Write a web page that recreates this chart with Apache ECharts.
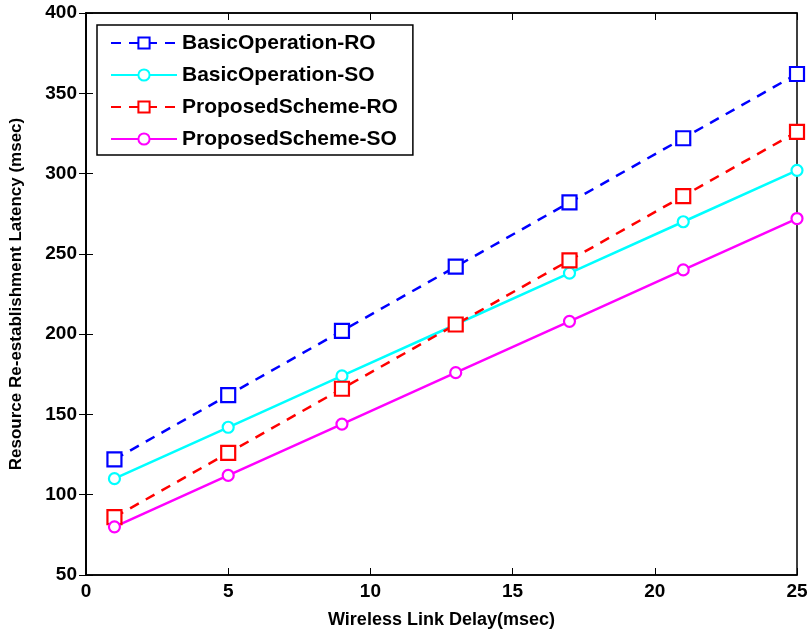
<!DOCTYPE html>
<html>
<head>
<meta charset="utf-8">
<script src="https://cdn.jsdelivr.net/npm/echarts@6/dist/echarts.min.js"></script>
<style>
  html, body { margin: 0; padding: 0; background: #fff; }
  #chart { width: 809px; height: 639px; }
</style>
</head>
<body>
<div id="chart"></div>
<script>
// x values (wireless link delay, msec)
const delays = [1, 5, 9, 13, 17, 21, 25]

// latency values (msec)
const basicRO = [122, 162, 202, 242, 282, 322, 362]
const basicSO = [110, 142, 174, 206, 238, 270, 302]
const proposedRO = [86, 126, 166, 206, 246, 286, 326]
const proposedSO = [80, 112, 144, 176, 208, 240, 272]

const seriesNames = ['BasicOperation-RO', 'BasicOperation-SO', 'ProposedScheme-RO', 'ProposedScheme-SO']

const font = "'Liberation Sans', Arial, sans-serif"

const toPoints = (ys) => delays.map((x, i) => [x, ys[i]])

const makeSeries = (name, ys, color, dashed, square) => ({
  name: name,
  type: 'line',
  data: toPoints(ys),
  symbol: square ? 'rect' : 'circle',
  symbolSize: square ? 14 : 11,
  showAllSymbol: true,
  itemStyle: { color: '#fff', borderColor: color, borderWidth: 2.2 },
  lineStyle: { color: color, width: 2.5, type: dashed ? [10, 8] : 'solid' },
  emphasis: { disabled: true },
  z: 3
})

const chart = echarts.init(document.getElementById('chart'))

chart.setOption({
  animation: false,
  backgroundColor: '#fff',
  grid: {
    left: 86,
    right: 12,
    top: 13,
    bottom: 64,
    outerBoundsMode: 'none',
    containLabel: false,
    show: true,
    borderColor: '#000',
    borderWidth: 1.5
  },
  legend: {
    data: seriesNames,
    orient: 'vertical',
    left: 97,
    top: 25,
    itemWidth: 66,
    itemHeight: 14,
    itemGap: 8,
    padding: [6, 15, 4, 13],
    borderColor: '#000',
    borderWidth: 1.5,
    backgroundColor: '#fff',
    textStyle: {
      fontFamily: font,
      fontWeight: 'bold',
      fontSize: 21,
      lineHeight: 24,
      color: '#000'
    }
  },
  xAxis: [
    {
      type: 'value',
      min: 0,
      max: 25,
      interval: 5,
      name: 'Wireless Link Delay(msec)',
      nameLocation: 'middle',
      nameGap: 36,
      nameTextStyle: { fontFamily: font, fontWeight: 'bold', fontSize: 18, color: '#000' },
      axisLine: { lineStyle: { color: '#000', width: 1.5 } },
      axisTick: { inside: true, length: 7, lineStyle: { color: '#000' } },
      axisLabel: { fontFamily: font, fontWeight: 'bold', fontSize: 19, color: '#000', margin: 7 },
      splitLine: { show: false }
    },
    {
      type: 'value',
      position: 'top',
      min: 0,
      max: 25,
      interval: 5,
      axisLine: { lineStyle: { color: '#000', width: 1.5 } },
      axisTick: { inside: true, length: 7, lineStyle: { color: '#000' } },
      axisLabel: { show: false },
      splitLine: { show: false }
    }
  ],
  yAxis: [
    {
      type: 'value',
      min: 50,
      max: 400,
      interval: 50,
      name: 'Resource Re-establishment Latency (msec)',
      nameLocation: 'middle',
      nameGap: 61,
      nameTextStyle: { fontFamily: font, fontWeight: 'bold', fontSize: 17, color: '#000' },
      axisLine: { lineStyle: { color: '#000', width: 1.5 } },
      axisTick: { inside: true, length: 7, lineStyle: { color: '#000' } },
      axisLabel: { fontFamily: font, fontWeight: 'bold', fontSize: 19, color: '#000', margin: 9 },
      splitLine: { show: false }
    },
    {
      type: 'value',
      position: 'right',
      min: 50,
      max: 400,
      interval: 50,
      axisLine: { lineStyle: { color: '#000', width: 1.5 } },
      axisTick: { inside: true, length: 7, lineStyle: { color: '#000' } },
      axisLabel: { show: false },
      splitLine: { show: false }
    }
  ],
  series: [
    makeSeries(seriesNames[0], basicRO, '#0000ff', true, true),
    makeSeries(seriesNames[1], basicSO, '#00ffff', false, false),
    makeSeries(seriesNames[2], proposedRO, '#ff0000', true, true),
    makeSeries(seriesNames[3], proposedSO, '#ff00ff', false, false)
  ]
})
</script>
</body>
</html>
